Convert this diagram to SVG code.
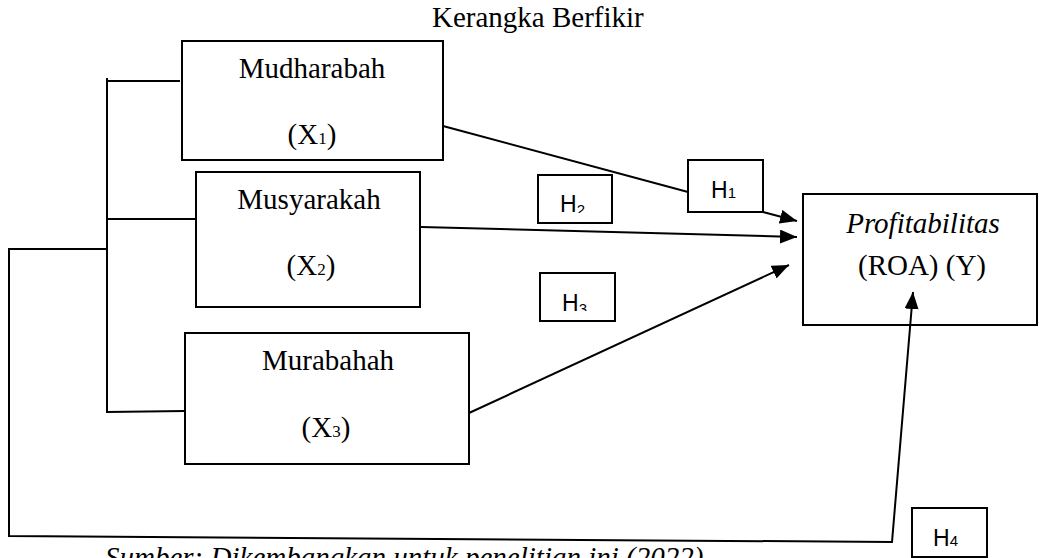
<svg xmlns="http://www.w3.org/2000/svg" width="1039" height="558" viewBox="0 0 1039 558">
<style>
.box{fill:#fff;stroke:#000;stroke-width:2}
.ln{fill:none;stroke:#000;stroke-width:2}
.serif{font-family:"Liberation Serif","Times New Roman",serif;font-size:29px;fill:#000}
.sans{font-family:"Liberation Sans",Arial,sans-serif;font-size:23px;fill:#000}
.sub{font-size:17px}
.hsub{font-size:15px}
</style>
<defs>
<marker id="arr" markerUnits="userSpaceOnUse" markerWidth="18" markerHeight="14" refX="17" refY="7" orient="auto">
<path d="M0,0 L17,7 L0,14 Z" fill="#000"/>
</marker>
<clipPath id="c2"><rect x="538" y="175" width="74" height="38"/></clipPath>
<clipPath id="c3"><rect x="540" y="273" width="75" height="38"/></clipPath>
</defs>
<text class="serif" x="432" y="27">Kerangka Berfikir</text>
<g id="mudharabah">
<rect class="box" x="182" y="41" width="261" height="119"/>
<text class="serif" x="312" y="78" text-anchor="middle">Mudharabah</text>
<text class="serif" x="312" y="144" text-anchor="middle">(X<tspan class="sub">1</tspan>)</text>
</g>
<g id="musyarakah">
<rect class="box" x="196" y="172" width="224" height="135"/>
<text class="serif" x="309" y="209" text-anchor="middle">Musyarakah</text>
<text class="serif" x="311" y="275" text-anchor="middle">(X<tspan class="sub">2</tspan>)</text>
</g>
<g id="murabahah">
<rect class="box" x="185" y="333" width="284" height="131"/>
<text class="serif" x="328" y="370" text-anchor="middle">Murabahah</text>
<text class="serif" x="326" y="437" text-anchor="middle">(X<tspan class="sub">3</tspan>)</text>
</g>
<g id="profitabilitas">
<rect class="box" x="803" y="194" width="234" height="131"/>
<text class="serif" x="923" y="233" text-anchor="middle" font-style="italic">Profitabilitas</text>
<text class="serif" x="922" y="275" text-anchor="middle">(ROA) (Y)</text>
</g>
<g id="h1">
<rect class="box" x="688" y="160" width="75" height="52"/>
<text class="sans" x="711" y="198">H<tspan class="hsub">1</tspan></text>
</g>
<g id="h2">
<rect class="box" x="538" y="175" width="74" height="48"/>
<text class="sans" x="560" y="212" clip-path="url(#c2)">H<tspan class="hsub" dy="3">2</tspan></text>
</g>
<g id="h3">
<rect class="box" x="540" y="273" width="75" height="48"/>
<text class="sans" x="562" y="311" clip-path="url(#c3)">H<tspan class="hsub" dy="3">3</tspan></text>
</g>
<g id="h4">
<rect class="box" x="912" y="508" width="75" height="49"/>
<text class="sans" x="933" y="546">H<tspan class="hsub">4</tspan></text>
</g>
<g id="connectors">
<path class="ln" d="M180,81 L107,81 M107,78 L107,412 L185,411 M107,219 L196,219"/>
<path class="ln" d="M107,249 L9,249 L9,536 L892,542 L913,292" marker-end="url(#arr)"/>
<path class="ln" d="M443,126 L688,192"/>
<path class="ln" d="M763,212 L797,221" marker-end="url(#arr)"/>
<path class="ln" d="M421,227 L797,237" marker-end="url(#arr)"/>
<path class="ln" d="M469,413 L789,265" marker-end="url(#arr)"/>
</g>
<text class="serif" x="105" y="567" font-style="italic" font-size="29.5">Sumber: Dikembangkan untuk penelitian ini (2022)</text>
</svg>
